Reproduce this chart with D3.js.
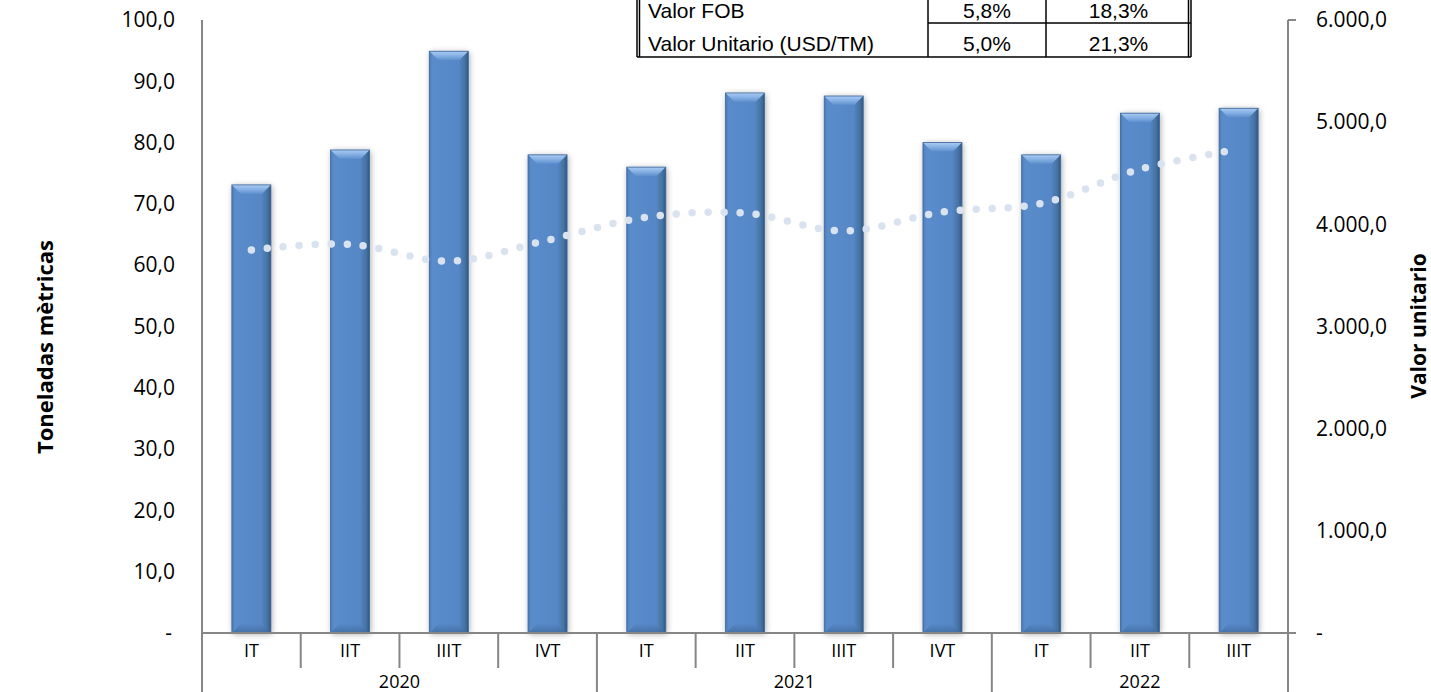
<!DOCTYPE html>
<html><head><meta charset="utf-8">
<script src="https://cdn.jsdelivr.net/npm/d3@7"></script>
<style>html,body{margin:0;padding:0;background:#fff;}svg{display:block;}</style>
</head><body>
<svg id="chart" width="1431" height="692"></svg>
<script>
// ---- data ----
const years = ["2020", "2021", "2022"];
const quarters = ["IT","IIT","IIIT","IVT","IT","IIT","IIIT","IVT","IT","IIT","IIIT"];
const quarterYear = ["2020","2020","2020","2020","2021","2021","2021","2021","2022","2022","2022"];
const volumen = [73.1, 78.8, 94.9, 78.0, 76.0, 88.1, 87.6, 80.0, 78.0, 84.8, 85.6];
const valorUnitario = [3750, 3805, 3640, 3845, 4070, 4110, 3935, 4120, 4205, 4540, 4735];
const leftTicks = [0,10,20,30,40,50,60,70,80,90,100];
const rightTicks = [0,1000,2000,3000,4000,5000,6000];
const tableRows = ["Valor FOB", "Valor Unitario (USD/TM)"];
const tableCol1 = ["5,8%", "5,0%"];
const tableCol2 = ["18,3%", "21,3%"];

const loc = d3.formatLocale({decimal: ",", thousands: ".", grouping: [3], currency: ["", ""]});
const fmt = loc.format(",.1f");

const svg = d3.select("#chart");
const L = 202, R = 1288, T = 20, B = 633;
const AX = "#868686";

const idx = quarters.map((d, i) => i);
const x = d3.scaleBand().domain(idx).range([L, R]).paddingInner(0).paddingOuter(0);
const yL = d3.scaleLinear().domain([0, 100]).range([B, T]);
const yR = d3.scaleLinear().domain([0, 6000]).range([B, T]);

const defs = svg.append("defs");
const g1 = defs.append("linearGradient").attr("id", "barBody").attr("x1", 0).attr("x2", 1).attr("y1", 0).attr("y2", 0);
[[0, "#4a7bb6"], [0.08, "#5a8ccb"], [0.75, "#5687c6"], [0.92, "#44719f"], [1, "#2f5683"]].forEach(s => g1.append("stop").attr("offset", s[0]).attr("stop-color", s[1]));
const g2 = defs.append("linearGradient").attr("id", "barTop").attr("x1", 0).attr("x2", 0).attr("y1", 0).attr("y2", 1);
[[0, "#a9cbf2"], [0.5, "#86b0e4"], [1, "#5d8fcd"]].forEach(s => g2.append("stop").attr("offset", s[0]).attr("stop-color", s[1]));
const g3 = defs.append("linearGradient").attr("id", "barBot").attr("x1", 0).attr("x2", 0).attr("y1", 0).attr("y2", 1);
[[0, "#5687c6"], [1, "#3c6698"]].forEach(s => g3.append("stop").attr("offset", s[0]).attr("stop-color", s[1]));
const f = defs.append("filter").attr("id", "shadow").attr("x", "-30%").attr("y", "-10%").attr("width", "160%").attr("height", "120%");
f.append("feGaussianBlur").attr("in", "SourceAlpha").attr("stdDeviation", 3).attr("result", "b");
f.append("feOffset").attr("in", "b").attr("dx", 1).attr("dy", 1).attr("result", "o");
f.append("feComponentTransfer").attr("in", "o").attr("result", "c").append("feFuncA").attr("type", "linear").attr("slope", 0.35);
const fm = f.append("feMerge"); fm.append("feMergeNode").attr("in", "c"); fm.append("feMergeNode").attr("in", "SourceGraphic");

// ---- bars ----
const bw = 39;
const bars = svg.append("g").selectAll("g").data(volumen).join("g")
  .attr("transform", (d, i) => `translate(${x(i) + x.bandwidth()/2 - bw/2},${yL(d)})`);
bars.append("rect").attr("width", bw).attr("height", d => B - yL(d))
  .attr("fill", "url(#barBody)").attr("filter", "url(#shadow)");
const bev = 9;
bars.append("path").attr("d", `M0,0 L${bw},0 L${bw-bev},${bev} L${bev},${bev} Z`).attr("fill", "url(#barTop)");
bars.append("path").attr("d", d => { const h = B - yL(d); return `M0,${h} L${bw},${h} L${bw-bev},${h-bev} L${bev},${h-bev} Z`; }).attr("fill", "url(#barBot)").attr("opacity", 0.7);
bars.append("rect").attr("width", bw).attr("height", d => B - yL(d)).attr("fill", "none").attr("stroke", "#3a659a").attr("stroke-width", 0.8);

// ---- line ----
const line = d3.line().x((d, i) => x(i) + x.bandwidth()/2).y(d => yR(d)).curve(d3.curveCatmullRom.alpha(0.5));
svg.append("path").datum(valorUnitario).attr("d", line).attr("fill", "none")
  .attr("stroke", "#d9e3f0").attr("stroke-width", 7.5).attr("stroke-linecap", "round").attr("stroke-dasharray", "0 16");

// ---- axes ----
const fontAxis = "'Open Sans', Lato, sans-serif";
const ax = svg.append("g").attr("stroke", AX).attr("stroke-width", 2).attr("fill", "none");
ax.append("line").attr("x1", L).attr("x2", L).attr("y1", T).attr("y2", 692);
ax.append("line").attr("x1", R).attr("x2", R).attr("y1", T).attr("y2", 692);
ax.append("line").attr("x1", R).attr("x2", R + 8).attr("y1", T).attr("y2", T);
ax.append("line").attr("x1", L).attr("x2", R + 8).attr("y1", B).attr("y2", B);
idx.slice(1).forEach(i => {
  const yearStart = quarterYear[i] !== quarterYear[i-1];
  ax.append("line").attr("x1", x(i)).attr("x2", x(i)).attr("y1", B).attr("y2", yearStart ? 692 : 668);
});

const leftAxis = d3.axisLeft(yL).tickValues(leftTicks).tickSize(0).tickPadding(27)
  .tickFormat(d => d === 0 ? "-" : fmt(d));
const la = svg.append("g").attr("transform", `translate(${L},0)`).call(leftAxis);
la.select(".domain").remove();
la.selectAll("text").attr("font-family", fontAxis).attr("font-size", 21).attr("fill", "#000");
la.selectAll(".tick").filter(d => d === 0).select("text").attr("dx", -3);

const rightAxis = d3.axisRight(yR).tickValues(rightTicks).tickSize(0).tickPadding(28)
  .tickFormat(d => d === 0 ? "-" : fmt(d));
const ra = svg.append("g").attr("transform", `translate(${R},0)`).call(rightAxis);
ra.select(".domain").remove();
ra.selectAll("text").attr("font-family", fontAxis).attr("font-size", 21).attr("fill", "#000");

// category labels
svg.append("g").selectAll("text").data(quarters).join("text")
  .attr("x", (d, i) => x(i) + x.bandwidth()/2).attr("y", 657)
  .attr("text-anchor", "middle").attr("font-family", fontAxis).attr("font-size", 18).attr("fill", "#000").text(d => d);
svg.append("g").selectAll("text").data(years).join("text")
  .attr("x", y => { const ii = idx.filter(i => quarterYear[i] === y); return (x(ii[0]) + x(ii[ii.length-1]) + x.bandwidth()) / 2; })
  .attr("y", 688).attr("text-anchor", "middle").attr("font-family", fontAxis).attr("font-size", 18).attr("fill", "#000").text(d => d);

// axis titles
svg.append("text").attr("transform", "translate(53,347) rotate(-90)").attr("text-anchor", "middle")
  .attr("font-family", fontAxis).attr("font-weight", "bold").attr("font-size", 22).text("Toneladas mètricas");
svg.append("text").attr("transform", "translate(1426,326) rotate(-90)").attr("text-anchor", "middle")
  .attr("font-family", fontAxis).attr("font-weight", "bold").attr("font-size", 21).text("Valor unitario");

// ---- table ----
const tx = [637, 928, 1046, 1191];
const ty = [-12, 23, 57];
const tg = svg.append("g");
tg.append("rect").attr("x", tx[0]).attr("y", ty[0]).attr("width", tx[3] - tx[0]).attr("height", ty[2] - ty[0]).attr("fill", "#fff");
const tl = tg.append("g").attr("stroke", "#000").attr("stroke-width", 1.5);
tl.append("line").attr("x1", tx[0]).attr("x2", tx[0]).attr("y1", ty[0]).attr("y2", ty[2]);
tl.append("line").attr("x1", tx[0]+2.5).attr("x2", tx[0]+2.5).attr("y1", ty[0]).attr("y2", ty[2]);
tl.append("line").attr("x1", tx[3]).attr("x2", tx[3]).attr("y1", ty[0]).attr("y2", ty[2]);
tl.append("line").attr("x1", tx[3]-2.5).attr("x2", tx[3]-2.5).attr("y1", ty[0]).attr("y2", ty[2]);
tl.append("line").attr("x1", tx[1]).attr("x2", tx[1]).attr("y1", ty[0]).attr("y2", ty[2]);
tl.append("line").attr("x1", tx[2]).attr("x2", tx[2]).attr("y1", ty[0]).attr("y2", ty[2]);
tl.append("line").attr("x1", tx[1]).attr("x2", tx[3]).attr("y1", ty[1]).attr("y2", ty[1]);
tl.append("line").attr("x1", tx[0]).attr("x2", tx[3]).attr("y1", ty[2]).attr("y2", ty[2]);
const tf = "'Liberation Sans', Arial, sans-serif";
tableRows.forEach((r, i) => {
  const by = i === 0 ? 18 : 51;
  tg.append("text").attr("x", tx[0] + 11).attr("y", by).attr("font-family", tf).attr("font-size", 21).text(r);
  tg.append("text").attr("x", (tx[1] + tx[2]) / 2).attr("y", by).attr("text-anchor", "middle").attr("font-family", tf).attr("font-size", 21).text(tableCol1[i]);
  tg.append("text").attr("x", (tx[2] + tx[3]) / 2).attr("y", by).attr("text-anchor", "middle").attr("font-family", tf).attr("font-size", 21).text(tableCol2[i]);
});
</script>
</body></html>
